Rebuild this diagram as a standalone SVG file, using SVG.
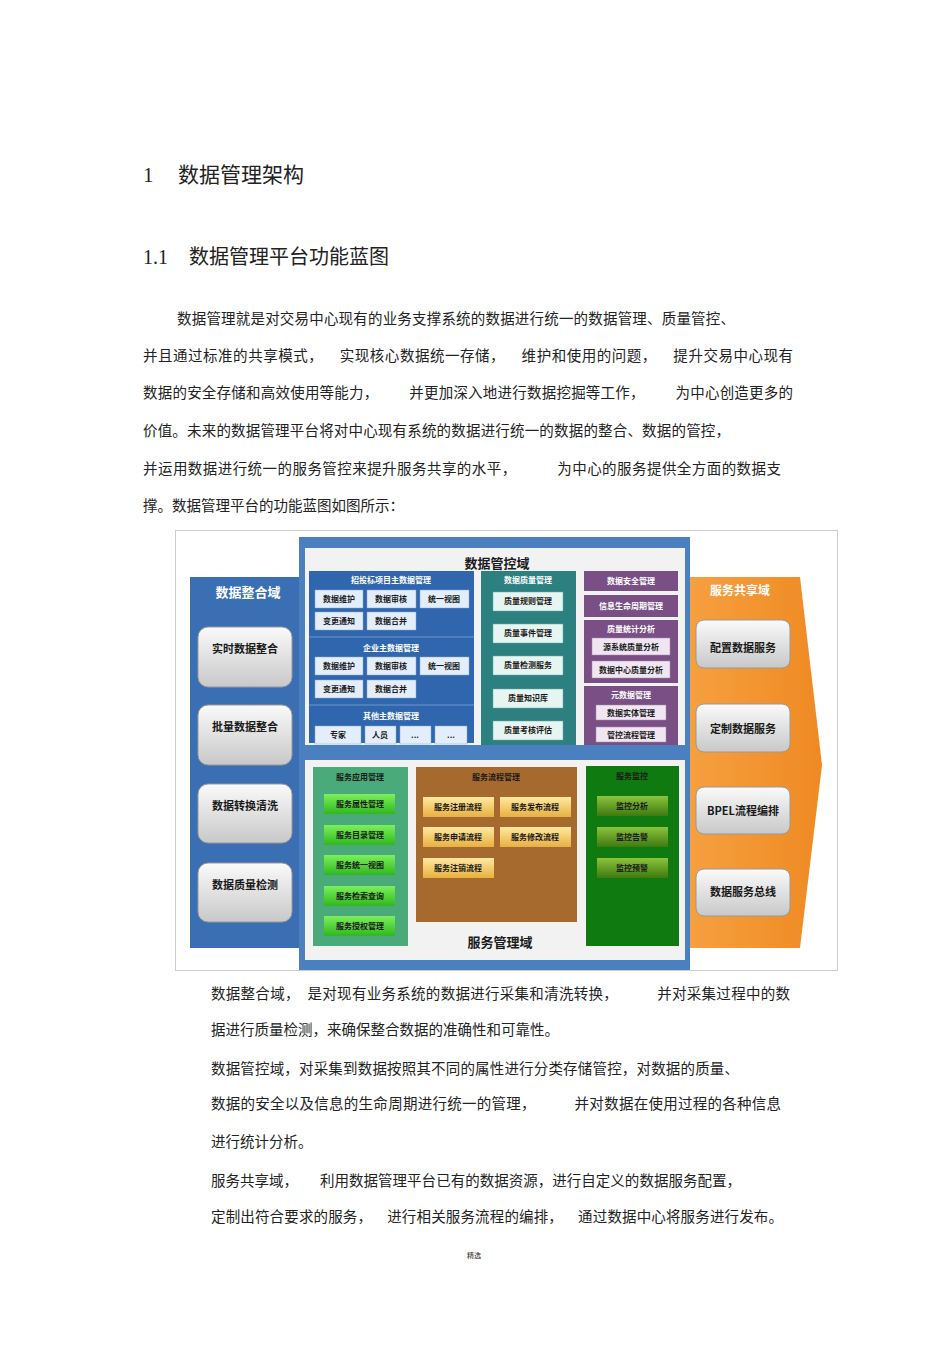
<svg xmlns="http://www.w3.org/2000/svg" width="950" height="1345" viewBox="0 0 950 1345">
<defs>
<linearGradient id="gb" x1="0" y1="0" x2="0" y2="1"><stop offset="0" stop-color="#fafafa"/><stop offset="1" stop-color="#c8c8c8"/></linearGradient>
<linearGradient id="gg" x1="0" y1="0" x2="0" y2="1"><stop offset="0" stop-color="#7cf05a"/><stop offset="1" stop-color="#2fb81e"/></linearGradient>
<linearGradient id="gy" x1="0" y1="0" x2="0" y2="1"><stop offset="0" stop-color="#ffe9a0"/><stop offset="1" stop-color="#e8b040"/></linearGradient>
<linearGradient id="gd" x1="0" y1="0" x2="0" y2="1"><stop offset="0" stop-color="#8cc43c"/><stop offset="1" stop-color="#3e7a10"/></linearGradient>
<linearGradient id="go" x1="0" y1="0" x2="1" y2="0"><stop offset="0" stop-color="#f6a040"/><stop offset="1" stop-color="#ef8a22"/></linearGradient>
</defs>
<style>
.t{font-family:"Liberation Serif","Noto Sans CJK SC",serif;fill:#222}
.p{font-size:14.5px;white-space:pre}
.b{font-family:"Noto Sans CJK SC",sans-serif;font-weight:bold;fill:#1a1a1a;text-anchor:middle}
.s{font-size:8px}
.w{fill:#fff}
.k{fill:#e4eefa;stroke:#8aa8d0;stroke-width:.5}
.c{fill:#e6f4f2;stroke:#6aa;stroke-width:.5}
.m{fill:#efe6f2;stroke:#a8a;stroke-width:.5}
</style>
<rect width="950" height="1345" fill="#fff"/>
<text class="t" x="143" y="182" font-size="21">1</text>
<text class="t" x="178" y="182" font-size="21">数据管理架构</text>
<text class="t" x="143" y="264" font-size="20">1.1</text>
<text class="t" x="189" y="264" font-size="20">数据管理平台功能蓝图</text>
<g class="t p">
<text xml:space="preserve" x="177" y="324" textLength="558" lengthAdjust="spacing">数据管理就是对交易中心现有的业务支撑系统的数据进行统一的数据管理、质量管控、</text>
<text xml:space="preserve" x="143" y="361" textLength="650" lengthAdjust="spacing">并且通过标准的共享模式，    实现核心数据统一存储，    维护和使用的问题，    提升交易中心现有</text>
<text xml:space="preserve" x="143" y="398" textLength="650" lengthAdjust="spacing">数据的安全存储和高效使用等能力，        并更加深入地进行数据挖掘等工作，        为中心创造更多的</text>
<text xml:space="preserve" x="143" y="436" textLength="587" lengthAdjust="spacing">价值。未来的数据管理平台将对中心现有系统的数据进行统一的数据的整合、数据的管控，</text>
<text xml:space="preserve" x="143" y="474" textLength="638" lengthAdjust="spacing">并运用数据进行统一的服务管控来提升服务共享的水平，          为中心的服务提供全方面的数据支</text>
<text x="143" y="511">撑。数据管理平台的功能蓝图如图所示：</text>
</g>
<rect x="175.5" y="530.5" width="662" height="440" fill="#fff" stroke="#ccc"/>
<g id="integration">
<rect x="190" y="577" width="112" height="371" fill="#3a6fb4"/>
<text class="b w" x="248" y="597" font-size="13">数据整合域</text>
<g font-size="11">
<rect x="198" y="627" width="94" height="60" rx="10" fill="url(#gb)" stroke="#999"/><text class="b" x="245" y="653">实时数据整合</text>
<rect x="198" y="705" width="94" height="60" rx="10" fill="url(#gb)" stroke="#999"/><text class="b" x="245" y="731">批量数据整合</text>
<rect x="198" y="784" width="94" height="59" rx="10" fill="url(#gb)" stroke="#999"/><text class="b" x="245" y="810">数据转换清洗</text>
<rect x="198" y="863" width="94" height="59" rx="10" fill="url(#gb)" stroke="#999"/><text class="b" x="245" y="889">数据质量检测</text>
</g>
</g>
<g id="share">
<path d="M688 577 H800 L822 765 L800 948 H688 Z" fill="url(#go)"/>
<text class="b w" x="740" y="595" font-size="12">服务共享域</text>
<g font-size="11">
<rect x="696" y="620" width="94" height="48" rx="8" fill="url(#gb)" stroke="#999"/><text class="b" x="743" y="652">配置数据服务</text>
<rect x="696" y="704" width="94" height="48" rx="8" fill="url(#gb)" stroke="#999"/><text class="b" x="743" y="733">定制数据服务</text>
<rect x="696" y="787" width="94" height="47" rx="8" fill="url(#gb)" stroke="#999"/><text class="b" x="743" y="815">BPEL流程编排</text>
<rect x="696" y="869" width="94" height="47" rx="8" fill="url(#gb)" stroke="#999"/><text class="b" x="743" y="896">数据服务总线</text>
</g>
</g>
<g id="control">
<rect x="299" y="537" width="391" height="433" fill="#4a7fc0"/>
<rect x="305" y="548" width="380" height="197" fill="#f2f2f2"/>
<text class="b" x="497" y="568" font-size="13">数据管控域</text>
<rect x="309" y="571" width="165" height="172" fill="#2f66ad"/>
<line x1="309" y1="637" x2="474" y2="637" stroke="#6f98cc"/><line x1="309" y1="705" x2="474" y2="705" stroke="#6f98cc"/>
<g class="s">
<text class="b w" x="391" y="583">招投标项目主数据管理</text>
<rect class="k" x="315" y="590" width="48" height="18"/><text class="b" x="339" y="602">数据维护</text>
<rect class="k" x="367" y="590" width="49" height="18"/><text class="b" x="391" y="602">数据审核</text>
<rect class="k" x="420" y="590" width="49" height="18"/><text class="b" x="444" y="602">统一视图</text>
<rect class="k" x="315" y="612" width="48" height="18"/><text class="b" x="339" y="624">变更通知</text>
<rect class="k" x="367" y="612" width="49" height="18"/><text class="b" x="391" y="624">数据合并</text>
<text class="b w" x="391" y="651">企业主数据管理</text>
<rect class="k" x="315" y="657" width="48" height="18"/><text class="b" x="339" y="669">数据维护</text>
<rect class="k" x="367" y="657" width="49" height="18"/><text class="b" x="391" y="669">数据审核</text>
<rect class="k" x="420" y="657" width="49" height="18"/><text class="b" x="444" y="669">统一视图</text>
<rect class="k" x="315" y="680" width="48" height="18"/><text class="b" x="339" y="692">变更通知</text>
<rect class="k" x="367" y="680" width="49" height="18"/><text class="b" x="391" y="692">数据合并</text>
<text class="b w" x="391" y="719">其他主数据管理</text>
<rect class="k" x="315" y="726" width="46" height="18"/><text class="b" x="338" y="738">专家</text>
<rect class="k" x="365" y="726" width="31" height="18"/><text class="b" x="380" y="738">人员</text>
<rect class="k" x="400" y="726" width="31" height="18"/><text class="b" x="415" y="738">...</text>
<rect class="k" x="435" y="726" width="32" height="18"/><text class="b" x="451" y="738">...</text>
</g>
<rect x="481" y="571" width="95" height="174" fill="#2c8080"/>
<g class="s">
<text class="b w" x="528" y="583">数据质量管理</text>
<rect class="c" x="493" y="592" width="70" height="19"/><text class="b" x="528" y="604">质量规则管理</text>
<rect class="c" x="493" y="624" width="70" height="19"/><text class="b" x="528" y="636">质量事件管理</text>
<rect class="c" x="493" y="656" width="70" height="19"/><text class="b" x="528" y="668">质量检测服务</text>
<rect class="c" x="493" y="689" width="70" height="19"/><text class="b" x="528" y="701">质量知识库</text>
<rect class="c" x="493" y="721" width="70" height="19"/><text class="b" x="528" y="733">质量考核评估</text>
</g>
<g class="s">
<rect x="584" y="571" width="94" height="20" fill="#7a4f86"/><text class="b w" x="631" y="584">数据安全管理</text>
<rect x="584" y="595" width="94" height="22" fill="#7a4f86"/><text class="b w" x="631" y="609">信息生命周期管理</text>
<rect x="584" y="620" width="94" height="63" fill="#7a4f86"/><text class="b w" x="631" y="632">质量统计分析</text>
<rect class="m" x="592" y="638" width="78" height="17"/><text class="b" x="631" y="650">源系统质量分析</text>
<rect class="m" x="592" y="661" width="78" height="17"/><text class="b" x="631" y="673">数据中心质量分析</text>
<rect x="584" y="686" width="94" height="59" fill="#7a4f86"/><text class="b w" x="631" y="698">元数据管理</text>
<rect class="m" x="596" y="705" width="70" height="15"/><text class="b" x="631" y="716">数据实体管理</text>
<rect class="m" x="596" y="727" width="70" height="15"/><text class="b" x="631" y="738">管控流程管理</text>
</g>
</g>
<g id="service">
<rect x="305" y="760" width="380" height="200" fill="#f2f2f2"/>
<rect x="313" y="767" width="95" height="179" fill="#4aaa7a"/>
<rect x="416" y="767" width="161" height="155" fill="#a66a2e"/>
<rect x="586" y="766" width="93" height="180" fill="#0f7a0f"/>
<text class="b" x="500" y="947" font-size="13">服务管理域</text>
<g class="s">
<text class="b" x="360" y="780">服务应用管理</text>
<rect x="324" y="794" width="71" height="20" fill="url(#gg)"/><text class="b" x="360" y="807">服务属性管理</text>
<rect x="324" y="825" width="71" height="20" fill="url(#gg)"/><text class="b" x="360" y="838">服务目录管理</text>
<rect x="324" y="855" width="71" height="20" fill="url(#gg)"/><text class="b" x="360" y="868">服务统一视图</text>
<rect x="324" y="886" width="71" height="20" fill="url(#gg)"/><text class="b" x="360" y="899">服务检索查询</text>
<rect x="324" y="916" width="71" height="20" fill="url(#gg)"/><text class="b" x="360" y="929">服务授权管理</text>
<text class="b" x="496" y="780">服务流程管理</text>
<rect x="423" y="797" width="71" height="20" fill="url(#gy)"/><text class="b" x="458" y="810">服务注册流程</text>
<rect x="500" y="797" width="71" height="20" fill="url(#gy)"/><text class="b" x="535" y="810">服务发布流程</text>
<rect x="423" y="827" width="71" height="20" fill="url(#gy)"/><text class="b" x="458" y="840">服务申请流程</text>
<rect x="500" y="827" width="71" height="20" fill="url(#gy)"/><text class="b" x="535" y="840">服务修改流程</text>
<rect x="423" y="858" width="71" height="20" fill="url(#gy)"/><text class="b" x="458" y="871">服务注销流程</text>
<text class="b" x="632" y="779">服务监控</text>
<rect x="597" y="796" width="71" height="20" fill="url(#gd)"/><text class="b" x="632" y="809">监控分析</text>
<rect x="597" y="827" width="71" height="20" fill="url(#gd)"/><text class="b" x="632" y="840">监控告警</text>
<rect x="597" y="858" width="71" height="20" fill="url(#gd)"/><text class="b" x="632" y="871">监控预警</text>
</g>
</g>
<g class="t p">
<text xml:space="preserve" x="211" y="999" textLength="579" lengthAdjust="spacing">数据整合域，  是对现有业务系统的数据进行采集和清洗转换，          并对采集过程中的数</text>
<text x="211" y="1035">据进行质量检测，来确保整合数据的准确性和可靠性。</text>
<text xml:space="preserve" x="211" y="1074" textLength="528" lengthAdjust="spacing">数据管控域，对采集到数据按照其不同的属性进行分类存储管控，对数据的质量、</text>
<text xml:space="preserve" x="211" y="1109" textLength="570" lengthAdjust="spacing">数据的安全以及信息的生命周期进行统一的管理，          并对数据在使用过程的各种信息</text>
<text x="211" y="1147">进行统计分析。</text>
<text xml:space="preserve" x="211" y="1186" textLength="530" lengthAdjust="spacing">服务共享域，      利用数据管理平台已有的数据资源，进行自定义的数据服务配置，</text>
<text xml:space="preserve" x="211" y="1222" textLength="572" lengthAdjust="spacing">定制出符合要求的服务，    进行相关服务流程的编排，    通过数据中心将服务进行发布。</text>
</g>
<text class="t" x="474" y="1258" font-size="7" text-anchor="middle">精选</text>
</svg>
